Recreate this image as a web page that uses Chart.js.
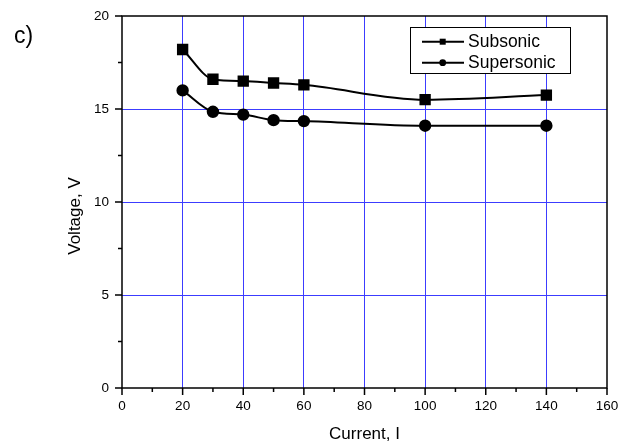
<!DOCTYPE html>
<html>
<head>
<meta charset="utf-8">
<script src="https://cdn.jsdelivr.net/npm/chart.js@4/dist/chart.umd.min.js"></script>
<style>
  html, body { margin: 0; padding: 0; background: #ffffff; }
  #wrap { width: 620px; height: 448px; position: relative; }
</style>
</head>
<body>
<div id="wrap"><canvas id="c" width="620" height="448"></canvas></div>
<script>
// ---- data ----
const currents   = [20, 30, 40, 50, 60, 100, 140];
const subsonic   = [18.2, 16.6, 16.5, 16.4, 16.3, 15.5, 15.75];
const supersonic = [16.0, 14.85, 14.7, 14.4, 14.35, 14.1, 14.1];
const seriesNames = ['Subsonic', 'Supersonic'];
const xTicks = [0, 20, 40, 60, 80, 100, 120, 140, 160];
const yTicks = [0, 5, 10, 15, 20];
const panelLabel = 'c)';
const xTitle = 'Current, I';
const yTitle = 'Voltage, V';

const FONT = '"Liberation Sans", Arial, sans-serif';
const GRID = '#3c3cff';

const toPts = (xs, ys) => xs.map((x, i) => ({ x: x, y: ys[i] }));

const decor = {
  id: 'decor',
  afterDraw(chart) {
    const ctx = chart.ctx;
    const a = chart.chartArea;
    const xs = chart.scales.x, ys = chart.scales.y;
    ctx.save();
    // frame
    ctx.strokeStyle = '#000';
    ctx.lineWidth = 1.5;
    ctx.strokeRect(a.left, a.top, a.right - a.left, a.bottom - a.top);
    // ticks
    ctx.lineWidth = 1.5;
    ctx.beginPath();
    for (let i = 0; i < xTicks.length; i++) {
      const px = xs.getPixelForValue(xTicks[i]);
      ctx.moveTo(px, a.bottom); ctx.lineTo(px, a.bottom + 7);
      if (i < xTicks.length - 1) {
        const mx = xs.getPixelForValue((xTicks[i] + xTicks[i + 1]) / 2);
        ctx.moveTo(mx, a.bottom); ctx.lineTo(mx, a.bottom + 4);
      }
    }
    for (let i = 0; i < yTicks.length; i++) {
      const py = ys.getPixelForValue(yTicks[i]);
      ctx.moveTo(a.left, py); ctx.lineTo(a.left - 7, py);
      if (i < yTicks.length - 1) {
        const my = ys.getPixelForValue((yTicks[i] + yTicks[i + 1]) / 2);
        ctx.moveTo(a.left, my); ctx.lineTo(a.left - 4, my);
      }
    }
    ctx.stroke();

    // titles
    ctx.fillStyle = '#000';
    ctx.font = '17px ' + FONT;
    ctx.textAlign = 'center';
    ctx.textBaseline = 'middle';
    ctx.fillText(xTitle, (a.left + a.right) / 2, 434);
    ctx.save();
    ctx.translate(75, 216);
    ctx.rotate(-Math.PI / 2);
    ctx.fillText(yTitle, 0, 0);
    ctx.restore();
    ctx.font = '23px ' + FONT;
    ctx.textAlign = 'left';
    ctx.fillText(panelLabel, 14, 37);

    // legend
    const bx = 410.5, by = 27.5, bw = 160, bh = 46;
    ctx.fillStyle = '#fff';
    ctx.fillRect(bx, by, bw, bh);
    ctx.strokeStyle = '#000';
    ctx.lineWidth = 1;
    ctx.strokeRect(bx, by, bw, bh);
    const rows = [41.7, 62.7];
    chart.data.datasets.forEach((ds, i) => {
      const y = rows[i];
      ctx.strokeStyle = '#000';
      ctx.lineWidth = 2;
      ctx.beginPath();
      ctx.moveTo(422, y); ctx.lineTo(464, y);
      ctx.stroke();
      ctx.fillStyle = '#000';
      if (ds.pointStyle === 'rect') {
        ctx.fillRect(442.7 - 3, y - 3, 6, 6);
      } else {
        ctx.beginPath(); ctx.arc(442.7, y, 3.4, 0, Math.PI * 2); ctx.fill();
      }
      ctx.font = '17.5px ' + FONT;
      ctx.textAlign = 'left';
      ctx.textBaseline = 'middle';
      ctx.fillText(ds.label, 468, y + 0.5);
    });
    ctx.restore();
  }
};

new Chart(document.getElementById('c'), {
  type: 'line',
  data: {
    datasets: [
      {
        label: seriesNames[0],
        data: toPts(currents, subsonic),
        borderColor: '#000', backgroundColor: '#000',
        borderWidth: 2,
        pointStyle: 'rect', pointRadius: 6.6, pointHoverRadius: 6.6,
        cubicInterpolationMode: 'monotone'
      },
      {
        label: seriesNames[1],
        data: toPts(currents, supersonic),
        borderColor: '#000', backgroundColor: '#000',
        borderWidth: 2,
        pointStyle: 'circle', pointRadius: 5.2, pointHoverRadius: 5.2,
        cubicInterpolationMode: 'monotone'
      }
    ]
  },
  options: {
    responsive: false,
    animation: false,
    events: [],
    layout: { padding: { left: 0, top: 16, right: 13, bottom: 0 } },
    plugins: { legend: { display: false }, tooltip: { enabled: false } },
    scales: {
      x: {
        type: 'linear', min: 0, max: 160,
        afterFit: s => { s.height = 60; s.paddingLeft = 0; s.paddingRight = 0; },
        afterBuildTicks: s => { s.ticks = xTicks.map(v => ({ value: v })); },
        ticks: { font: { family: FONT, size: 13.5 }, color: '#000', padding: 10, maxRotation: 0 },
        grid: {
          drawTicks: false,
          color: c => (c.tick && (c.tick.value === 0 || c.tick.value === 160)) ? 'rgba(0,0,0,0)' : GRID,
          lineWidth: 1
        },
        border: { display: false }
      },
      y: {
        type: 'linear', min: 0, max: 20,
        afterFit: s => { s.width = 122; s.paddingTop = 0; s.paddingBottom = 0; },
        afterBuildTicks: s => { s.ticks = yTicks.map(v => ({ value: v })); },
        ticks: { font: { family: FONT, size: 13.5 }, color: '#000', padding: 13 },
        grid: {
          drawTicks: false,
          color: c => (c.tick && (c.tick.value === 0 || c.tick.value === 20)) ? 'rgba(0,0,0,0)' : GRID,
          lineWidth: 1
        },
        border: { display: false }
      }
    }
  },
  plugins: [decor]
});
</script>
</body>
</html>
